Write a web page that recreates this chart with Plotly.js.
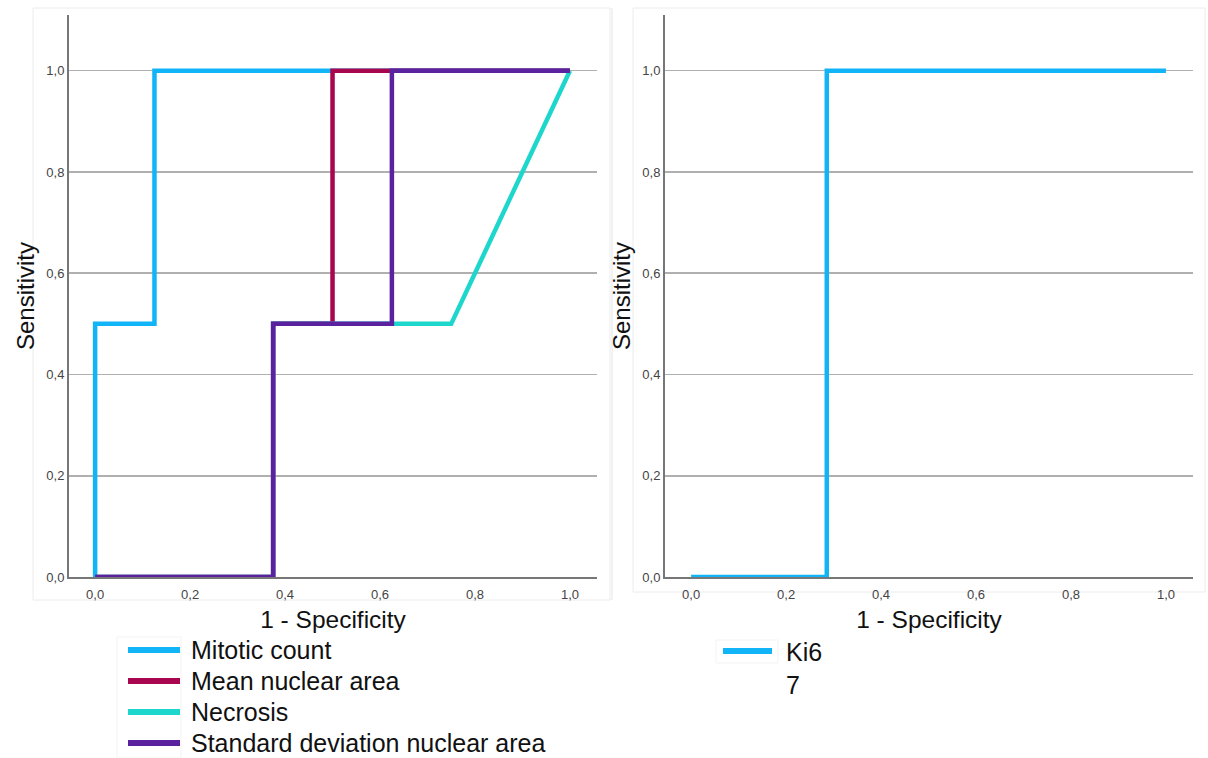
<!DOCTYPE html>
<html><head><meta charset="utf-8">
<script src="https://cdn.plot.ly/plotly-3.0.1.min.js"></script>
<style>html,body{margin:0;padding:0;background:#fff;}#chart{width:1208px;height:758px;}</style>
</head><body><div id="chart"></div>
<script>
// Left panel ROC curves
const mitoticX = [0, 0, 0.125, 0.125, 1];
const mitoticY = [0, 0.5, 0.5, 1, 1];
const meanAreaX = [0, 0.375, 0.375, 0.5, 0.5, 1];
const meanAreaY = [0, 0, 0.5, 0.5, 1, 1];
const necrosisX = [0, 0.375, 0.375, 0.75, 1];
const necrosisY = [0, 0, 0.5, 0.5, 1];
const sdAreaX = [0, 0.375, 0.375, 0.625, 0.625, 1];
const sdAreaY = [0, 0, 0.5, 0.5, 1, 1];
// Right panel ROC curve
const ki67X = [0, 0.2857, 0.2857, 1];
const ki67Y = [0, 0, 1, 1];
const tickVals = [0, 0.2, 0.4, 0.6, 0.8, 1.0];
const tickText = ['0,0', '0,2', '0,4', '0,6', '0,8', '1,0'];
const leftNames = ['Mitotic count', 'Mean nuclear area', 'Necrosis', 'Standard deviation nuclear area'];
const rightNames = ['Ki6<br>7'];

const W = 1208, H = 758;
const px = v => v / W, py = v => 1 - v / H;
const font = 'Liberation Sans, Arial, sans-serif';
const leftColors = ['#12b4f8', '#a8064e', '#1dd6cc', '#5b22a0'];
const rightColors = ['#12b4f8'];

function tr(x, y, name, color, xa, ya) {
  return {x, y, name, type: 'scatter', mode: 'lines', xaxis: xa, yaxis: ya, showlegend: false,
    line: {color, width: 4.5, shape: 'linear'}, hoverinfo: 'skip'};
}
const data = [
  tr(mitoticX, mitoticY, leftNames[0], leftColors[0], 'x', 'y'),
  tr(meanAreaX, meanAreaY, leftNames[1], leftColors[1], 'x', 'y'),
  tr(necrosisX, necrosisY, leftNames[2], leftColors[2], 'x', 'y'),
  tr(sdAreaX, sdAreaY, leftNames[3], leftColors[3], 'x', 'y'),
  tr(ki67X, ki67Y, rightNames[0], rightColors[0], 'x2', 'y2')
];

function xaxis(dom, anchor) {
  return {domain: dom, anchor, range: [-0.055, 1.057], tickvals: tickVals, ticktext: tickText,
    showgrid: false, zeroline: false, showline: true, linecolor: '#777', linewidth: 2,
    ticks: 'outside', ticklen: 4, tickcolor: 'rgba(0,0,0,0)', automargin: false,
    tickfont: {family: font, size: 13, color: '#444'},
    title: {text: '1 - Specificity', font: {family: font, size: 24.5, color: '#111'}, standoff: 10},
    fixedrange: true};
}
function yaxis(dom, anchor) {
  return {domain: dom, anchor, range: [0, 1.11], tickvals: tickVals, ticktext: tickText,
    showgrid: true, gridcolor: '#b0b0b0', gridwidth: 1.6, zeroline: false, showline: true,
    linecolor: '#777', linewidth: 2, ticks: '', automargin: false,
    tickfont: {family: font, size: 13, color: '#444'},
    title: {text: 'Sensitivity', font: {family: font, size: 24, color: '#111'}, standoff: 5},
    fixedrange: true};
}

// Legend drawn as paper-referenced samples and labels
const shapes = [
  {type: 'rect', xref: 'paper', yref: 'paper', x0: px(33), x1: px(610), y0: py(600), y1: py(8),
    line: {color: '#ececec', width: 1}, layer: 'below'},
  {type: 'rect', xref: 'paper', yref: 'paper', x0: px(633), x1: px(1205), y0: py(592), y1: py(8),
    line: {color: '#ececec', width: 1}, layer: 'below'},
  {type: 'line', xref: 'paper', yref: 'paper', x0: px(612), x1: px(612), y0: py(600), y1: py(8),
    line: {color: '#e4e4e4', width: 1}, layer: 'below'},
  {type: 'rect', xref: 'paper', yref: 'paper', x0: px(117), x1: px(181), y0: py(758), y1: py(637),
    line: {color: '#f3f3f3', width: 1}, layer: 'below'},
  {type: 'rect', xref: 'paper', yref: 'paper', x0: px(716), x1: px(778), y0: py(663), y1: py(640),
    line: {color: '#f3f3f3', width: 1}, layer: 'below'}
];
const annotations = [];
leftNames.forEach((n, i) => {
  const yc = 650 + i * 31;
  shapes.push({type: 'line', xref: 'paper', yref: 'paper', x0: px(128), x1: px(180), y0: py(yc), y1: py(yc),
    line: {color: leftColors[i], width: 6}});
  annotations.push({xref: 'paper', yref: 'paper', x: px(189), y: py(yc), xanchor: 'left', yanchor: 'middle',
    text: n, showarrow: false, font: {family: font, size: 25, color: '#111'}});
});
rightNames.forEach((n, i) => {
  const yc = 651;
  shapes.push({type: 'line', xref: 'paper', yref: 'paper', x0: px(723), x1: px(772), y0: py(yc), y1: py(yc),
    line: {color: rightColors[i], width: 6}});
  annotations.push({xref: 'paper', yref: 'paper', x: px(784), y: py(yc - 15), xanchor: 'left', yanchor: 'top',
    text: n, align: 'left', showarrow: false, font: {family: font, size: 25, color: '#111'}});
});

const yDom = [py(577), py(15)];
const layout = {
  width: W, height: H, margin: {l: 0, r: 0, t: 0, b: 0, autoexpand: false},
  paper_bgcolor: '#fff', plot_bgcolor: '#fff', showlegend: false,
  xaxis: xaxis([px(69), px(597)], 'y'),
  yaxis: yaxis(yDom, 'x'),
  xaxis2: xaxis([px(665), px(1193)], 'y2'),
  yaxis2: yaxis(yDom, 'x2'),
  shapes, annotations
};
Plotly.newPlot('chart', data, layout, {displayModeBar: false, staticPlot: true});
</script></body></html>
